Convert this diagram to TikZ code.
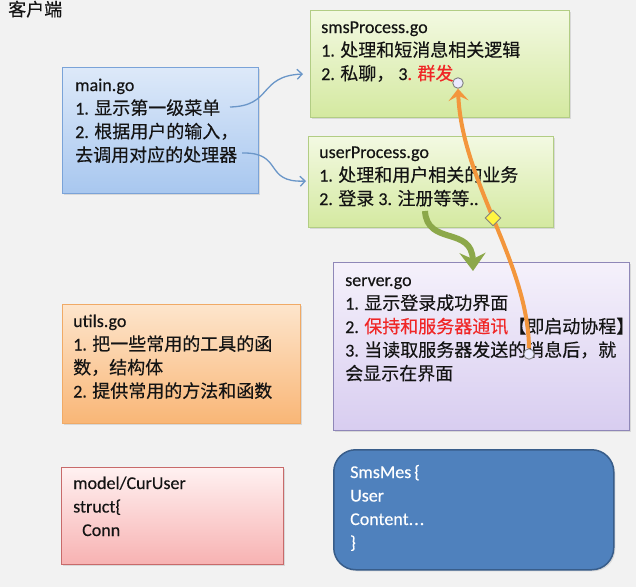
\documentclass[tikz,border=0pt]{standalone}
\usepackage{fontspec}
\setmainfont{Carlito}[FakeBold=0.3]
\newfontfamily\cjk{Noto Sans CJK SC}[FakeBold=0.3]
\usetikzlibrary{arrows.meta,shadows,shapes.geometric}
\newcommand\zh[1]{{\cjk #1}}
\definecolor{bgc}{HTML}{F2F2F2}
\definecolor{txtc}{HTML}{141414}
\definecolor{redc}{HTML}{F02626}
\definecolor{mainTop}{HTML}{DDE9F9}
\definecolor{mainBot}{HTML}{A8C7EF}
\definecolor{mainBd}{HTML}{7AA3D8}
\definecolor{grTop}{HTML}{F3F9E2}
\definecolor{grBot}{HTML}{D4E9A0}
\definecolor{grBd}{HTML}{B2CD84}
\definecolor{svTop}{HTML}{F5F1FB}
\definecolor{svBot}{HTML}{D8CDF0}
\definecolor{svBd}{HTML}{8F87B8}
\definecolor{utTop}{HTML}{FDE5CC}
\definecolor{utBot}{HTML}{F9B676}
\definecolor{utBd}{HTML}{F0AA66}
\definecolor{mdTop}{HTML}{FFF1F1}
\definecolor{mdBot}{HTML}{F7B2B2}
\definecolor{mdBd}{HTML}{C86A6A}
\definecolor{smFill}{HTML}{4F81BD}
\definecolor{smBd}{HTML}{385D8A}
\definecolor{blueArr}{HTML}{6A96C8}
\definecolor{greenArr}{HTML}{8CA84A}
\definecolor{orangeArr}{HTML}{F3963C}
\begin{document}
\begin{tikzpicture}[x=1pt,y=-1pt,
  box/.style={draw, line width=0.8pt, inner sep=0pt, anchor=north west,
    drop shadow={opacity=0.22,shadow xshift=1.5pt,shadow yshift=-1.5pt}},
  txt/.style={anchor=base west, inner sep=0pt, font=\fontsize{18}{23.5}\selectfont, text=txtc},
  barrow/.style={draw=blueArr, line width=1.3pt, -{Straight Barb[length=5pt,width=10pt]}},
  handle/.style={circle, draw=gray, fill=blue!8!white, line width=0.9pt, minimum size=10.5pt, inner sep=0pt}]
\useasboundingbox (0,0) rectangle (636,587);
\fill[bgc] (0,0) rectangle (636,587);

% boxes
\node[box, minimum width=196pt, minimum height=126pt, top color=mainTop, bottom color=mainBot, draw=mainBd] (main) at (62,67) {};
\node[box, minimum width=259pt, minimum height=107pt, top color=grTop, bottom color=grBot, draw=grBd] (sms) at (310,10) {};
\node[box, minimum width=245pt, minimum height=91pt, top color=grTop, bottom color=grBot, draw=grBd] (user) at (308,136) {};
\node[box, minimum width=296pt, minimum height=168pt, top color=svTop, bottom color=svBot, draw=svBd] (server) at (333,262) {};
\node[box, minimum width=238pt, minimum height=119pt, top color=utTop, bottom color=utBot, draw=utBd] (utils) at (62,304) {};
\node[box, minimum width=222pt, minimum height=97pt, top color=mdTop, bottom color=mdBot, draw=mdBd] (model) at (61,467) {};
\node[box, minimum width=280pt, minimum height=120pt, fill=smFill, draw=smBd, line width=1.5pt, rounded corners=22pt] (smsmes) at (333,449) {};

% texts
\node[txt] (title) at (8,16) {\zh{客户端}};
\node[txt] (mainT) at (75,91) {\begin{minipage}[t]{200pt}main.go\\1. \zh{显示第一级菜单}\\2. \zh{根据用户的输入，}\\\zh{去调用对应的处理器}\end{minipage}};
\node[txt] (smsT) at (321,33) {\begin{minipage}[t]{250pt}smsProcess.go\\1. \zh{处理和短消息相关逻辑}\\2. \zh{私聊，} 3\textcolor{redc}{. \zh{群发}}\end{minipage}};
\node[txt] (userT) at (319,158) {\begin{minipage}[t]{250pt}userProcess.go\\1. \zh{处理和用户相关的业务}\\2. \zh{登录} 3. \zh{注册等等}..\end{minipage}};
\node[txt] (serverT) at (345,286) {\begin{minipage}[t]{320pt}server.go\\1. \zh{显示登录成功界面}\\2. \textcolor{redc}{\zh{保持和服务器通讯}}\zh{【即启动协程】}\\3. \zh{当读取服务器发送的消息后，就}\\\zh{会显示在界面}\end{minipage}};
\node[txt] (utilsT) at (73,327) {\begin{minipage}[t]{250pt}utils.go\\1. \zh{把一些常用的工具的函}\\\zh{数，结构体}\\2. \zh{提供常用的方法和函数}\end{minipage}};
\node[txt] (modelT) at (73,489) {\begin{minipage}[t]{200pt}model/CurUser\\struct\{\\\hspace*{9pt}Conn\end{minipage}};
\node[txt, text=white] (smsmesT) at (350,478) {\begin{minipage}[t]{200pt}SmsMes\,\{\\User\\Content.\kern1pt.\kern1pt.\\\}\end{minipage}};

% blue connectors
\coordinate (b1s) at (230,107);
\coordinate (b1e) at (303,74);
\coordinate (b2s) at (242,153);
\coordinate (b2e) at (306,181);
\draw[barrow] (b1s) .. controls (273,106) and (258,76) .. (b1e);
\draw[barrow] (b2s) .. controls (284,152) and (263,183) .. (b2e);

% green connector
\coordinate (gs) at (425,211);
\coordinate (ge) at (473,271);
\draw[greenArr, line width=6pt, -{Stealth[length=18pt,width=26pt,inset=6pt]}] (gs) .. controls (427,246) and (472,226) .. (ge);

% orange connector with handles
\node[handle] (oc1) at (529,354) {};
\node[handle] (oc2) at (458,83) {};
\draw[orangeArr, line width=4pt, -{Stealth[length=12pt,width=20pt,inset=5pt]}] (oc1.north) .. controls (528,262) and (462,182) .. (oc2.south);
\node[rectangle, rotate=45, draw=gray, fill=yellow!75!white, line width=0.9pt, minimum size=11pt, inner sep=0pt] (dm) at (493,218) {};
\end{tikzpicture}
\end{document}
